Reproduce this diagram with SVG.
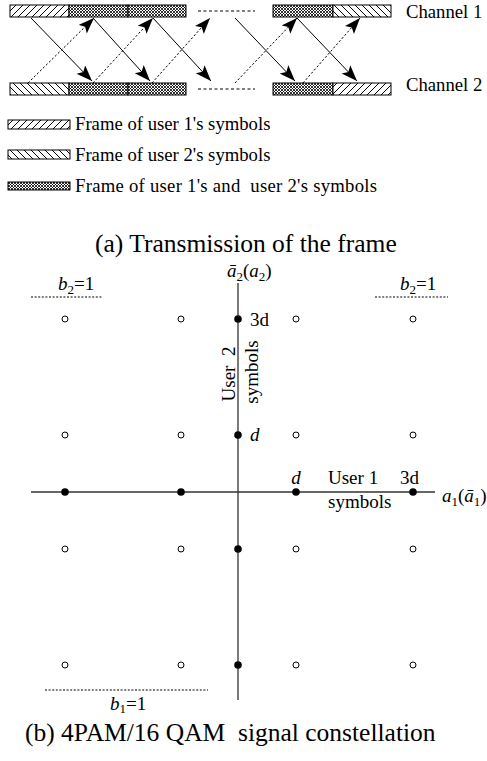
<svg xmlns="http://www.w3.org/2000/svg" width="487" height="761" viewBox="0 0 487 761">
<style>
text{font-family:"Liberation Serif","Times New Roman",serif;fill:#000}
.lab{font-size:18.7px}
.ttl{font-size:25.5px}
.cl{font-size:19px}
.it{font-style:italic}
.frame{stroke:#000;stroke-width:1}
.u1{fill:url(#hatch1)}
.u2{fill:url(#hatch2)}
.both{fill:url(#cross)}
.sol{stroke:#000;stroke-width:1;fill:none;marker-end:url(#ah)}
.dot{stroke:#000;stroke-width:1;fill:none;stroke-dasharray:2.2,2;marker-end:url(#ah)}
.dash{stroke:#000;stroke-width:1;stroke-dasharray:3,2.5;fill:none}
.fine{stroke:#000;stroke-width:1;stroke-dasharray:2,1.6;fill:none}
.axis{stroke:#333;stroke-width:1.3;fill:none}
.ho{fill:#fff;stroke:#000;stroke-width:1}
.fi{fill:#000}
</style>
<defs>
<pattern id="hatch1" patternUnits="userSpaceOnUse" width="7" height="7">
<rect width="7" height="7" fill="#fff"/>
<path d="M0,7 L7,0 M-1,1 L1,-1 M6,8 L8,6" stroke="#000" stroke-width="1"/>
</pattern>
<pattern id="hatch2" patternUnits="userSpaceOnUse" width="7" height="7">
<rect width="7" height="7" fill="#fff"/>
<path d="M0,0 L7,7 M-1,6 L1,8 M6,-1 L8,1" stroke="#000" stroke-width="1"/>
</pattern>
<pattern id="cross" patternUnits="userSpaceOnUse" width="3" height="3">
<rect width="3" height="3" fill="#fff"/>
<path d="M0,0 L3,3 M3,0 L0,3" stroke="#000" stroke-width="0.8"/>
</pattern>
<marker id="ah" markerUnits="userSpaceOnUse" markerWidth="18" markerHeight="14" refX="16" refY="6" orient="auto">
<path d="M0,0 L16,6 L0,12 L3.5,6 Z" fill="#000"/>
</marker>
</defs>

<g id="channel1">
<rect class="frame u1" x="10" y="5" width="59" height="12"/>
<rect class="frame both" x="69" y="5" width="59" height="12"/>
<rect class="frame both" x="128" y="5" width="58" height="12"/>
<line class="dash" x1="198" y1="11" x2="255" y2="11"/>
<rect class="frame both" x="273" y="5" width="60" height="12"/>
<rect class="frame u2" x="333" y="5" width="58" height="12"/>
<text class="lab" x="406" y="18">Channel 1</text>
</g>

<g id="channel2">
<rect class="frame u2" x="10" y="83" width="59" height="12"/>
<rect class="frame both" x="69" y="83" width="59" height="12"/>
<rect class="frame both" x="128" y="83" width="58" height="12"/>
<line class="dash" x1="198" y1="89" x2="255" y2="89"/>
<rect class="frame both" x="273" y="83" width="60" height="12"/>
<rect class="frame u1" x="333" y="83" width="58" height="12"/>
<text class="lab" x="406" y="91">Channel 2</text>
</g>

<g id="connectors">
<line class="sol" x1="31" y1="18" x2="92" y2="81"/>
<line class="dot" x1="28" y1="83" x2="94" y2="18"/>
<line class="sol" x1="93" y1="18" x2="150" y2="81"/>
<line class="dot" x1="93" y1="83" x2="153" y2="18"/>
<line class="sol" x1="153" y1="18" x2="211" y2="81"/>
<line class="dot" x1="152" y1="83" x2="210" y2="18"/>
<line class="sol" x1="235" y1="18" x2="295" y2="81"/>
<line class="dot" x1="235" y1="83" x2="297" y2="18"/>
<line class="sol" x1="297" y1="18" x2="357" y2="81"/>
<line class="dot" x1="303" y1="83" x2="360" y2="18"/>
</g>

<g id="legend">
<rect class="frame u1" x="8" y="120" width="62" height="9"/>
<text class="lab" x="75" y="130">Frame of user 1's symbols</text>
<rect class="frame u2" x="8" y="150" width="62" height="9"/>
<text class="lab" x="75" y="161">Frame of user 2's symbols</text>
<rect class="frame both" x="8" y="182" width="62" height="8"/>
<text class="lab" x="75" y="192" xml:space="preserve" textLength="302" lengthAdjust="spacing">Frame of user 1's and  user 2's symbols</text>
</g>

<text id="title-a" class="ttl" x="95" y="252">(a) Transmission of the frame</text>

<g id="axes">
<line class="axis" x1="238" y1="283" x2="238" y2="700"/>
<line class="axis" x1="31" y1="492" x2="435" y2="492"/>
<text class="cl" x="227" y="277"><tspan class="it">ā</tspan><tspan font-size="13" dy="4">2</tspan><tspan dy="-4">(</tspan><tspan class="it">a</tspan><tspan font-size="13" dy="4">2</tspan><tspan dy="-4">)</tspan></text>
<text class="cl" x="442" y="502"><tspan class="it">a</tspan><tspan font-size="13" dy="4">1</tspan><tspan dy="-4">(</tspan><tspan class="it">ā</tspan><tspan font-size="13" dy="4">1</tspan><tspan dy="-4">)</tspan></text>
<text class="cl" transform="translate(235,374) rotate(-90)" text-anchor="middle" xml:space="preserve">User  2</text>
<text class="cl" transform="translate(258,372) rotate(-90)" text-anchor="middle">symbols</text>
<text class="cl" x="328" y="484">User 1</text>
<text class="cl" x="328" y="508">symbols</text>
</g>

<g id="bounds">
<line class="fine" x1="31" y1="297" x2="103" y2="297"/>
<text class="cl" x="58" y="290"><tspan class="it">b</tspan><tspan font-size="13" dy="4">2</tspan><tspan dy="-4">=1</tspan></text>
<line class="fine" x1="375" y1="297" x2="448" y2="297"/>
<text class="cl" x="400" y="290"><tspan class="it">b</tspan><tspan font-size="13" dy="4">2</tspan><tspan dy="-4">=1</tspan></text>
<line class="fine" x1="45" y1="690" x2="208" y2="690"/>
<text class="cl" x="110" y="710"><tspan class="it">b</tspan><tspan font-size="13" dy="3">1</tspan><tspan dy="-3">=1</tspan></text>
</g>

<g id="points">
<circle class="ho" cx="65" cy="319" r="3"/><circle class="ho" cx="181" cy="319" r="3"/><circle class="ho" cx="296" cy="319" r="3"/><circle class="ho" cx="413" cy="319" r="3"/>
<circle class="ho" cx="65" cy="435" r="3"/><circle class="ho" cx="181" cy="435" r="3"/><circle class="ho" cx="296" cy="435" r="3"/><circle class="ho" cx="413" cy="435" r="3"/>
<circle class="ho" cx="65" cy="549" r="3"/><circle class="ho" cx="181" cy="549" r="3"/><circle class="ho" cx="296" cy="549" r="3"/><circle class="ho" cx="413" cy="549" r="3"/>
<circle class="ho" cx="65" cy="665" r="3"/><circle class="ho" cx="181" cy="665" r="3"/><circle class="ho" cx="296" cy="665" r="3"/><circle class="ho" cx="413" cy="665" r="3"/>
<circle class="fi" cx="238" cy="319" r="3.8"/><circle class="fi" cx="238" cy="435" r="3.8"/><circle class="fi" cx="238" cy="549" r="3.8"/><circle class="fi" cx="238" cy="665" r="3.8"/>
<circle class="fi" cx="65" cy="492" r="3.8"/><circle class="fi" cx="181" cy="492" r="3.8"/><circle class="fi" cx="296" cy="492" r="3.8"/><circle class="fi" cx="413" cy="492" r="3.8"/>
<text class="cl" x="250" y="326">3d</text>
<text class="cl it" x="250" y="441">d</text>
<text class="cl it" x="296" y="484" text-anchor="middle">d</text>
<text class="cl" x="400" y="484">3d</text>
</g>

<text id="title-b" class="ttl" x="25" y="741" xml:space="preserve">(b) 4PAM/16 QAM  signal constellation</text>
</svg>
